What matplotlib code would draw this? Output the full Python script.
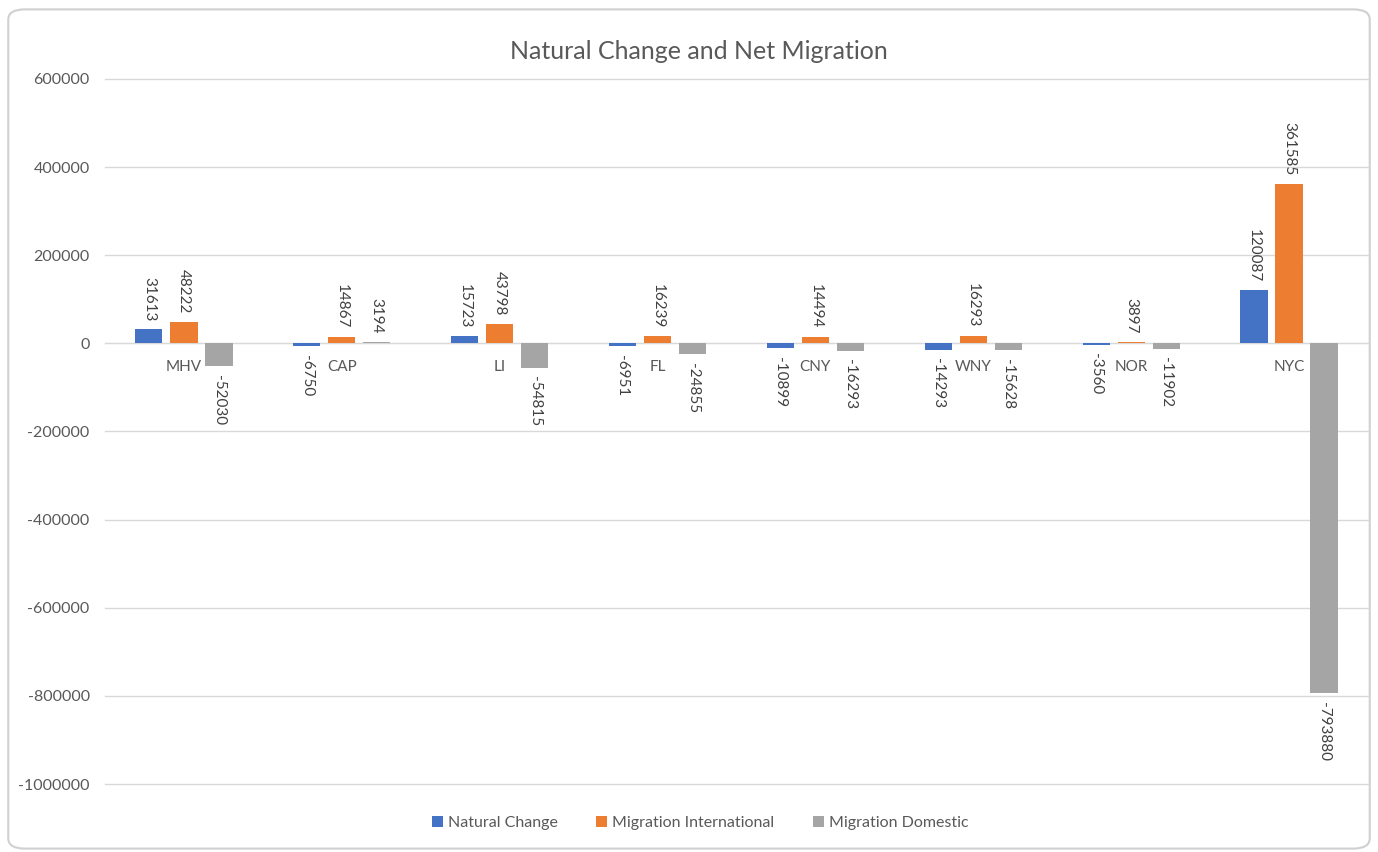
import numpy as np
import matplotlib.pyplot as plt
from matplotlib.patches import FancyBboxPatch

plt.rcParams['font.family'] = ['Lato', 'DejaVu Sans']

# datos
regiones = ['MHV', 'CAP', 'LI', 'FL', 'CNY', 'WNY', 'NOR', 'NYC']
natural = [31613, -6750, 15723, -6951, -10899, -14293, -3560, 120087]
internacional = [48222, 14867, 43798, 16239, 14494, 16293, 3897, 361585]
domestica = [-52030, 3194, -54815, -24855, -16293, -15628, -11902, -793880]

series = [('Natural Change', natural, '#4472C4'),
          ('Migration International', internacional, '#ED7D31'),
          ('Migration Domestic', domestica, '#A5A5A5')]

gris = '#595959'

fig = plt.figure(figsize=(13.78, 8.52), dpi=100)
ax = fig.add_axes([0.0762, 0.0798, 0.9165, 0.8275])

# marco redondeado
marco = FancyBboxPatch((0.006, 0.004), 0.988, 0.985, boxstyle='round,pad=0,rounding_size=0.012',
                       transform=fig.transFigure, facecolor='none', edgecolor='#D0D0D0',
                       linewidth=1.5, zorder=-1)
fig.patches.append(marco)

x = np.arange(len(regiones))
ancho = 0.172
paso = 0.222
for k, (nombre, vals, color) in enumerate(series):
    barras = ax.bar(x + (k - 1) * paso, vals, ancho, color=color, label=nombre, zorder=3)
    ax.bar_label(barras, labels=[str(v) for v in vals], rotation=-90, padding=6,
                 fontsize=11, color='#404040')

ax.set_ylim(-1000000, 600000)
ax.set_xlim(-0.5, len(regiones) - 0.5)
ax.set_yticks(np.arange(-1000000, 600001, 200000))
ax.set_yticklabels([str(v) for v in range(-1000000, 600001, 200000)])
ax.yaxis.grid(True, color='#D9D9D9', linewidth=1, zorder=0)
for gl in ax.get_ygridlines():
    gl.set_clip_on(False)
ax.tick_params(axis='y', length=0, labelsize=11.5, colors=gris, pad=11)

# etiquetas de categoria junto al eje (en cero)
ax.set_xticks(x)
ax.set_xticklabels(regiones)
ax.spines['bottom'].set_position(('data', 0))
ax.spines['bottom'].set_color('#D9D9D9')
ax.tick_params(axis='x', length=0, labelsize=11, colors=gris, pad=12)
for s in ['top', 'right', 'left']:
    ax.spines[s].set_visible(False)

fig.suptitle('Natural Change and Net Migration', x=0.507, y=0.953, fontsize=18, color=gris)

fig.legend(loc='center', bbox_to_anchor=(0.508, 0.034), ncol=3, frameon=False,
           fontsize=11.5, labelcolor=gris, handlelength=0.7, handleheight=0.7,
           handletextpad=0.3, columnspacing=2.4)

plt.savefig('out.png', dpi=100)
plt.close()
